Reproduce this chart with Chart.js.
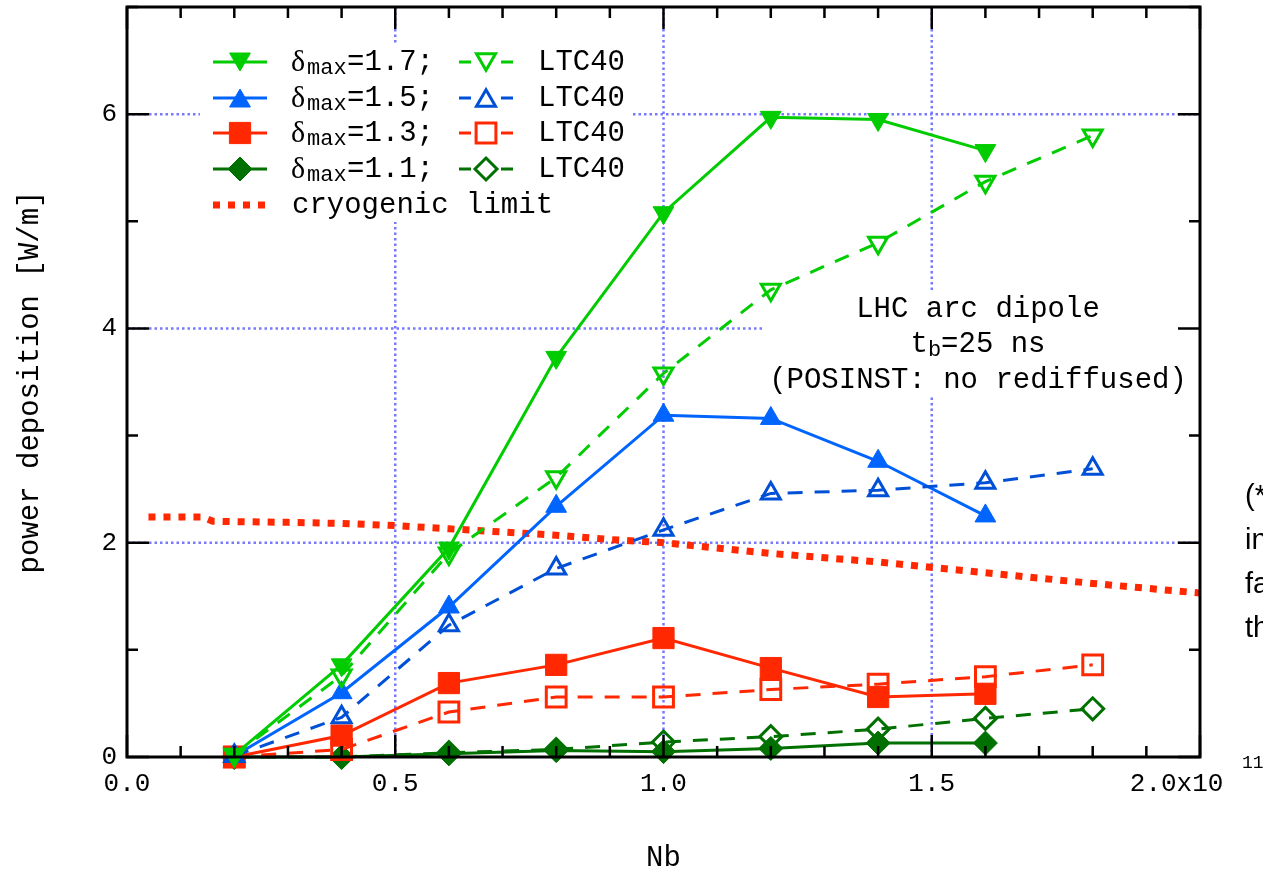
<!DOCTYPE html>
<html><head><meta charset="utf-8">
<script src="https://cdn.jsdelivr.net/npm/chart.js@4/dist/chart.umd.min.js"></script>
<style>html,body{margin:0;padding:0;background:#fff;overflow:hidden}#wrap{width:1263px;height:874px;position:relative}</style>
</head><body><div id="wrap"><canvas id="c" width="1263" height="874"></canvas></div>
<script>
// ---- data (Nb in units of 1e11, power deposition in W/m) ----
const nbSim = [0.2, 0.4, 0.6, 0.8, 1.0, 1.2, 1.4, 1.6];
const nbLTC = [0.2, 0.4, 0.6, 0.8, 1.0, 1.2, 1.4, 1.6, 1.8];
const sim17 = [0.02, 0.86, 1.95, 3.73, 5.08, 5.97, 5.95, 5.66];
const ltc17 = [0.02, 0.76, 1.90, 2.61, 3.58, 4.36, 4.80, 5.37, 5.80];
const sim15 = [0.01, 0.60, 1.40, 2.34, 3.19, 3.16, 2.76, 2.25];
const ltc15 = [0.01, 0.37, 1.23, 1.76, 2.12, 2.46, 2.49, 2.56, 2.69];
const sim13 = [0.00, 0.20, 0.69, 0.86, 1.11, 0.83, 0.56, 0.59];
const ltc13 = [0.00, 0.07, 0.42, 0.56, 0.56, 0.63, 0.68, 0.75, 0.86];
const sim11 = [0.00, 0.00, 0.03, 0.06, 0.05, 0.08, 0.13, 0.13];
const ltc11 = [0.00, 0.00, 0.04, 0.07, 0.14, 0.19, 0.26, 0.36, 0.45];
const cryoX = [0.04, 0.14, 0.16, 0.3, 0.4, 0.5, 0.6, 0.7, 0.8, 0.9, 1.0, 1.2, 1.4, 1.6, 1.8, 2.0];
const cryoY = [2.24, 2.24, 2.20, 2.19, 2.18, 2.16, 2.13, 2.10, 2.07, 2.03, 2.00, 1.90, 1.82, 1.72, 1.62, 1.53];
const xTickLabels = ['0.0', '0.5', '1.0', '1.5', '2.0x10'];
const yTickLabels = ['0', '2', '4', '6'];
const legendTexts = ['1.7', '1.5', '1.3', '1.1'];
const annotation = ['LHC arc dipole', 't|b|=25 ns', '(POSINST: no rediffused)'];
const sideText = ['(*', 'in', 'fa', 'th'];

const G = 'rgb(0,204,0)', B = 'rgb(0,100,255)', BD = 'rgb(0,80,215)', R = 'rgb(255,40,0)', DG = 'rgb(0,112,0)';
const GRID = 'rgb(120,120,255)';
const MONO = '"Liberation Mono", "DejaVu Sans Mono", monospace';

const pts = (xs, ys) => xs.map((x, i) => ({x: x, y: ys[i]}));
const CLEAR = 'rgba(0,0,0,0)';
function ds(xs, ys, color, style, rot, r, filled, dashed) {
  return {
    data: pts(xs, ys), borderColor: color, backgroundColor: color, borderWidth: 3,
    borderDash: dashed ? [15, 12] : [], pointStyle: style, pointRotation: rot, pointRadius: r,
    pointBorderColor: color, pointBackgroundColor: filled ? color : CLEAR,
    pointBorderWidth: filled ? 1 : 3, tension: 0, clip: false
  };
}
const datasets = [
  ds(nbLTC, ltc17, G, 'triangle', 180, 11, false, true),
  ds(nbSim, sim17, G, 'triangle', 180, 12, true, false),
  ds(nbLTC, ltc15, BD, 'triangle', 0, 11, false, true),
  ds(nbSim, sim15, B, 'triangle', 0, 12, true, false),
  ds(nbLTC, ltc13, R, 'rect', 0, 14, false, true),
  ds(nbSim, sim13, R, 'rect', 0, 15, true, false),
  ds(nbLTC, ltc11, DG, 'rectRot', 0, 11, false, true),
  ds(nbSim, sim11, DG, 'rectRot', 0, 12, true, false),
  {data: pts(cryoX, cryoY), borderColor: R, borderWidth: 7, borderDash: [7, 8], pointRadius: 0, tension: 0, clip: false}
];

function marker(ctx, style, x, y, r, filled, color) {
  ctx.save();
  ctx.setLineDash([]);
  ctx.strokeStyle = color; ctx.fillStyle = color; ctx.lineWidth = filled ? 1 : 3;
  ctx.beginPath();
  if (style === 'tdown' || style === 'tup') {
    const s = style === 'tdown' ? -1 : 1;
    for (let k = 0; k < 3; k++) {
      const a = -Math.PI / 2 + k * 2 * Math.PI / 3;
      const px = x + r * Math.cos(a), py = y + s * r * Math.sin(a) + s * r * 0.25;
      k ? ctx.lineTo(px, py) : ctx.moveTo(px, py);
    }
    ctx.closePath();
  } else if (style === 'rect') {
    const h = r * Math.SQRT1_2; ctx.rect(x - h, y - h, 2 * h, 2 * h);
  } else {
    ctx.moveTo(x, y - r); ctx.lineTo(x + r, y); ctx.lineTo(x, y + r); ctx.lineTo(x - r, y); ctx.closePath();
  }
  if (filled) ctx.fill();
  ctx.stroke();
  ctx.restore();
}

const deco = {
  id: 'deco',
  beforeDatasetsDraw(chart) {
    const {ctx, chartArea: a, scales: {x, y}} = chart;
    ctx.save();
    ctx.strokeStyle = GRID; ctx.lineWidth = 2.5; ctx.setLineDash([2.5, 3]);
    [0.5, 1.0, 1.5].forEach(v => { const p = x.getPixelForValue(v); ctx.beginPath(); ctx.moveTo(p, a.top); ctx.lineTo(p, a.bottom); ctx.stroke(); });
    [2, 4, 6].forEach(v => { const p = y.getPixelForValue(v); ctx.beginPath(); ctx.moveTo(a.left, p); ctx.lineTo(a.right, p); ctx.stroke(); });
    // opaque key and label boxes
    ctx.fillStyle = '#fff';
    ctx.fillRect(200, 44, 430, 178);
    ctx.fillRect(762, 290, 436, 107);
    ctx.restore();
  },
  afterDatasetsDraw(chart) {
    const {ctx, chartArea: a, scales: {x, y}} = chart;
    ctx.save();
    ctx.setLineDash([]);
    ctx.strokeStyle = '#000';
    // ticks (inward, mirrored)
    ctx.lineWidth = 2.5;
    for (let i = 0; i <= 20; i++) {
      const v = i / 10, p = x.getPixelForValue(v), L = (i % 5 === 0) ? 22 : 11;
      ctx.beginPath(); ctx.moveTo(p, a.bottom); ctx.lineTo(p, a.bottom - L);
      ctx.moveTo(p, a.top); ctx.lineTo(p, a.top + L); ctx.stroke();
    }
    for (let v = 0; v <= 7; v++) {
      const p = y.getPixelForValue(v), L = (v % 2 === 0) ? 22 : 11;
      ctx.beginPath(); ctx.moveTo(a.left, p); ctx.lineTo(a.left + L, p);
      ctx.moveTo(a.right, p); ctx.lineTo(a.right - L, p); ctx.stroke();
    }
    ctx.lineWidth = 3;
    ctx.strokeRect(a.left, a.top, a.right - a.left, a.bottom - a.top);

    // legend
    const rows = [62, 98, 133, 169, 205];
    const cols = [[G, G, 'tdown'], [B, BD, 'tup'], [R, R, 'rect'], [DG, DG, 'diam']];
    const sizes = {tdown: 12, tup: 12, rect: 15, diam: 12};
    ctx.textBaseline = 'middle'; ctx.textAlign = 'left';
    cols.forEach((c, i) => {
      const yy = rows[i];
      ctx.strokeStyle = c[0]; ctx.lineWidth = 3;
      ctx.beginPath(); ctx.moveTo(213, yy); ctx.lineTo(267, yy); ctx.stroke();
      marker(ctx, c[2], 240, yy, sizes[c[2]], true, c[0]);
      ctx.fillStyle = '#000';
      ctx.font = '30px "Liberation Serif", serif';
      ctx.fillText('\u03b4', 291, yy + 1);
      ctx.font = '22px ' + MONO;
      ctx.fillText('max', 307, yy + 6);
      ctx.font = '29px ' + MONO;
      ctx.fillText('=' + legendTexts[i] + ';', 347, yy);
      ctx.strokeStyle = c[1]; ctx.lineWidth = 3;
      ctx.beginPath(); ctx.moveTo(459, yy); ctx.lineTo(471, yy); ctx.moveTo(501, yy); ctx.lineTo(513, yy); ctx.stroke();
      marker(ctx, c[2], 486, yy, sizes[c[2]] - 1, false, c[1]);
      ctx.fillStyle = '#000';
      ctx.fillText('LTC40', 538, yy);
    });
    ctx.strokeStyle = R; ctx.lineWidth = 7; ctx.setLineDash([7, 8]);
    ctx.beginPath(); ctx.moveTo(213, rows[4]); ctx.lineTo(265, rows[4]); ctx.stroke();
    ctx.setLineDash([]);
    ctx.fillStyle = '#000'; ctx.font = '29px ' + MONO;
    ctx.fillText('cryogenic limit', 292, rows[4]);

    // annotation
    const cx = 978, ay = [309, 344, 380];
    ctx.textAlign = 'center';
    ctx.fillText(annotation[0], cx, ay[0]);
    ctx.fillText(annotation[2], cx, ay[2]);
    const parts = annotation[1].split('|');
    ctx.textAlign = 'left';
    ctx.font = '29px ' + MONO; const w0 = ctx.measureText(parts[0]).width, w2 = ctx.measureText(parts[2]).width;
    ctx.font = '22px ' + MONO; const w1 = ctx.measureText(parts[1]).width;
    let sx = cx - (w0 + w1 + w2) / 2;
    ctx.font = '29px ' + MONO; ctx.fillText(parts[0], sx, ay[1]); sx += w0;
    ctx.font = '22px ' + MONO; ctx.fillText(parts[1], sx, ay[1] + 6); sx += w1;
    ctx.font = '29px ' + MONO; ctx.fillText(parts[2], sx, ay[1]);

    // exponent of last x tick label
    ctx.font = '18px ' + MONO;
    ctx.fillText('11', x.getPixelForValue(2.0) + 42, 763);

    // axis titles
    ctx.font = '29px ' + MONO; ctx.textAlign = 'center';
    ctx.fillText('Nb', (a.left + a.right) / 2, 858);
    ctx.save();
    ctx.translate(30, (a.top + a.bottom) / 2); ctx.rotate(-Math.PI / 2);
    ctx.fillText('power deposition [W/m]', 0, 0);
    ctx.restore();

    // clipped side note
    ctx.textAlign = 'left'; ctx.font = '29px "Liberation Sans", Arial, sans-serif';
    sideText.forEach((t, i) => ctx.fillText(t, 1245, 497 + i * 44));
    ctx.restore();
  }
};

new Chart(document.getElementById('c'), {
  type: 'line',
  data: {datasets: datasets},
  plugins: [deco],
  options: {
    responsive: false, animation: false, devicePixelRatio: 1,
    layout: {autoPadding: false, padding: {top: 7, right: 63, left: 0, bottom: 0}},
    plugins: {legend: {display: false}, tooltip: {enabled: false}},
    scales: {
      x: {
        type: 'linear', min: 0, max: 2,
        grid: {display: false, drawTicks: false}, border: {display: false},
        ticks: {
          stepSize: 0.5, padding: 12, color: '#000', font: {family: MONO, size: 26},
          callback: (v) => { const i = Math.round(v * 2); return (Math.abs(v * 2 - i) < 1e-6) ? (i === 4 ? xTickLabels[4] + '   ' : xTickLabels[i]) : ''; }
        },
        afterFit: (s) => { s.height = 117; s.paddingLeft = 0; s.paddingRight = 0; }
      },
      y: {
        type: 'linear', min: 0, max: 7,
        grid: {display: false, drawTicks: false}, border: {display: false},
        ticks: {
          stepSize: 1, padding: 10, color: '#000', font: {family: MONO, size: 26},
          callback: (v) => (v % 2 === 0 ? yTickLabels[v / 2] : '')
        },
        afterFit: (s) => { s.width = 127; s.paddingTop = 0; s.paddingBottom = 0; }
      }
    }
  }
});
</script>
</body></html>
